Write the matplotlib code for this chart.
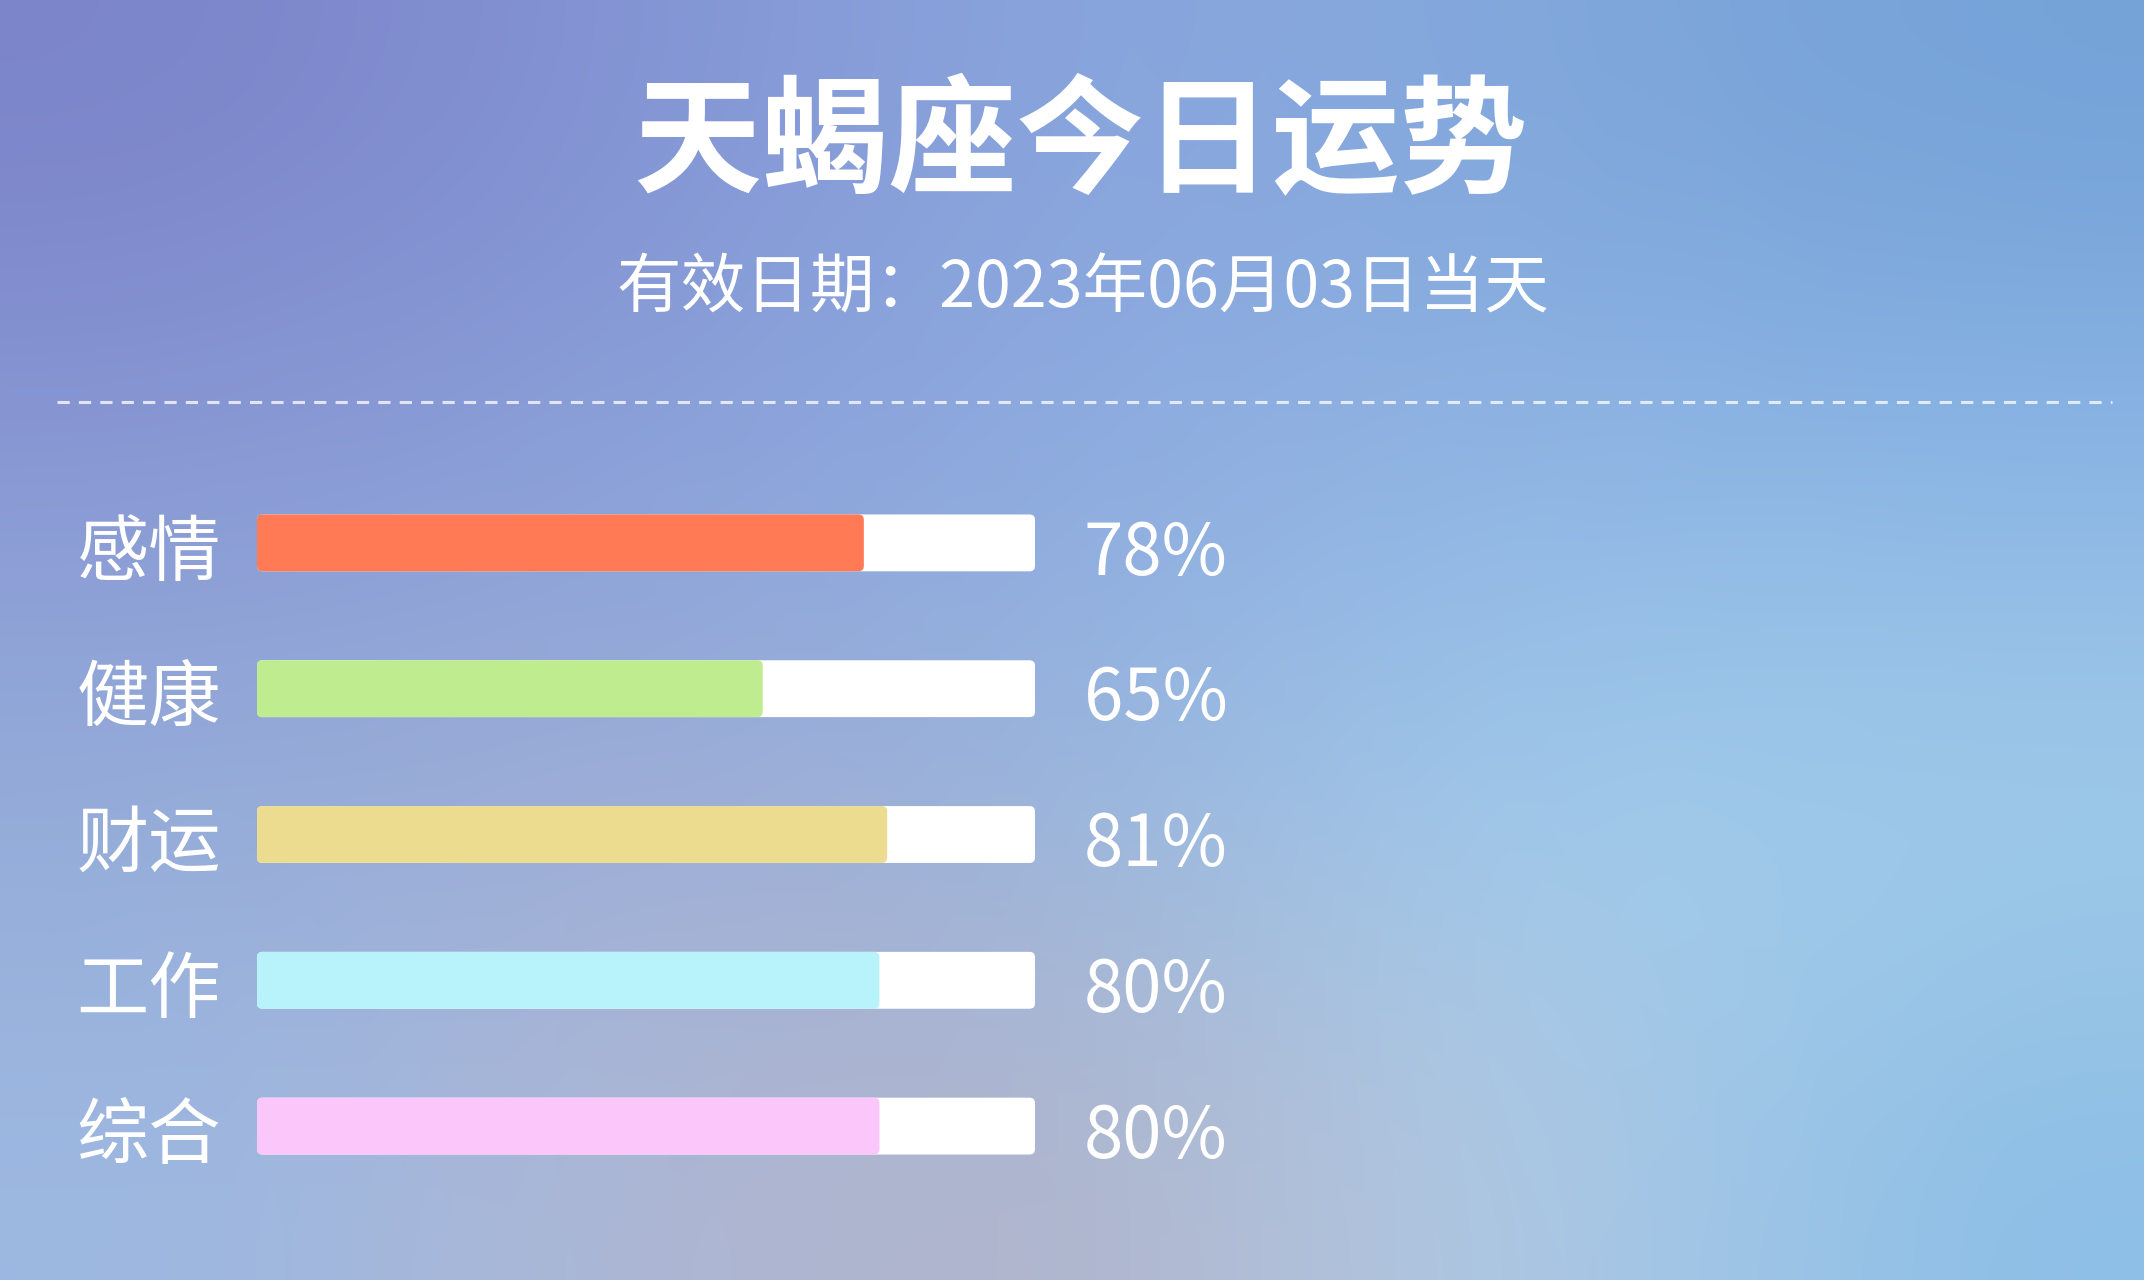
import matplotlib
matplotlib.use("Agg")
import matplotlib.pyplot as plt
import numpy as np
from matplotlib.colors import to_rgb
from matplotlib.patches import FancyBboxPatch

plt.rcParams['font.family'] = ['Noto Sans CJK SC', 'DejaVu Sans']

# DATA
title = '天蝎座今日运势'
subtitle = '有效日期：2023年06月03日当天'
categories = ['感情', '健康', '财运', '工作', '综合']
values = [78, 65, 81, 80, 80]
bar_colors = ['#ff7a55', '#bfec8e', '#ecdc90', '#b8f2fb', '#fbc6f9']

W, H, DPI = 2144, 1280, 100
fig = plt.figure(figsize=(W / DPI, H / DPI), dpi=DPI)

# background gradient (soft blurred photo look)
grid = [
    ['#7b84c9', '#8494d4', '#8aa6de', '#83a8dc', '#74a2d8'],
    ['#8a9ad6', '#8aa2da', '#8eace0', '#92b6e4', '#8cb6e6'],
    ['#94acd8', '#a0aed6', '#98b4dc', '#a0cdee', '#a2cce8'],
    ['#9cb8e2', '#b0b8d4', '#b0b2c8', '#b4cce6', '#8cbee6'],
]
bg = np.array([[to_rgb(c) for c in row] for row in grid])
ax_bg = fig.add_axes([0, 0, 1, 1])
ax_bg.imshow(bg, extent=[0, W, H, 0], aspect='auto', interpolation='bicubic')
ax_bg.set_xlim(0, W)
ax_bg.set_ylim(H, 0)
ax_bg.axis('off')

# title + subtitle
ax_bg.text(1080, 146, title, ha='center', va='center', color='white',
           fontsize=92, fontweight='bold')
ax_bg.text(1083, 289, subtitle, ha='center', va='center', color='white',
           fontsize=46.5)

# dashed separator
ax_bg.plot([57, 2112], [402, 402], color='white', alpha=0.75, lw=2.2,
           dashes=(4, 3))

# bars
ax = fig.add_axes([257 / W, 1 - 1199 / H, 778 / W, 729 / H])
ax.set_xlim(0, 100)
ax.set_ylim(len(categories) - 0.5, -0.5)
ax.axis('off')
ax.patch.set_alpha(0)

y = np.arange(len(categories))
bh = 0.39
tracks = ax.barh(y, [100] * len(categories), height=bh, color='white')
fills = ax.barh(y, values, height=bh, color=bar_colors)

px_x = 778 / 100
px_y = 729 / len(categories)
aspect = px_x / px_y
for b in list(tracks) + list(fills):
    x0, y0 = b.get_x(), b.get_y()
    w, h = b.get_width(), b.get_height()
    p = FancyBboxPatch((x0, y0), w, h,
                       boxstyle='round,pad=0,rounding_size=0.7',
                       mutation_aspect=aspect, fc=b.get_facecolor(),
                       ec='none')
    b.set_visible(False)
    ax.add_patch(p)

for i, (cat, v) in enumerate(zip(categories, values)):
    ax.annotate(cat, (0, i), xytext=(-26, -8), textcoords='offset points',
                ha='right', va='center', color='white', fontsize=52)
    ax.annotate(f'{v}%', (100, i), xytext=(35, -8), textcoords='offset points',
                ha='left', va='center', color='white', fontsize=51)

fig.savefig('out.png', dpi=DPI)
